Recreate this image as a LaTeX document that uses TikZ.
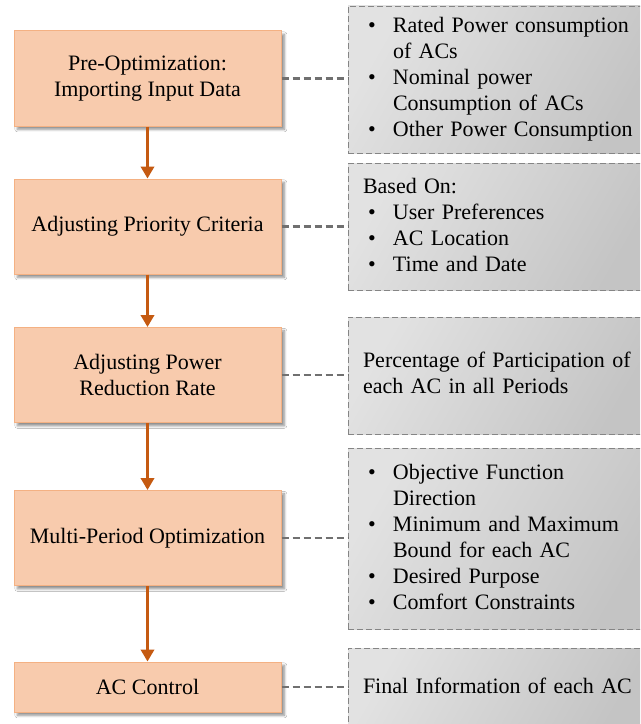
\documentclass[tikz,border=0pt]{standalone}
\usepackage{fontspec}
\setmainfont{Liberation Serif}
\usetikzlibrary{arrows.meta,shadows.blur}

\definecolor{peachfill}{RGB}{248,203,173}
\definecolor{peachline}{RGB}{244,177,131}
\definecolor{arrowbrown}{RGB}{197,90,17}
\definecolor{dashgray}{RGB}{112,112,112}
\definecolor{boxlight}{RGB}{226,226,226}
\definecolor{boxdark}{RGB}{196,196,196}

\newcommand{\bitem}{\makebox[22.5pt][l]{\hspace{3.75pt}\textbullet}}
\newcommand{\bcont}{\hspace*{22.5pt}}
\newenvironment{infolines}{\begin{tabular}{@{}l@{}}}{\end{tabular}}

\tikzset{
	stepbox/.style={draw=peachline, fill=peachfill, line width=0.75pt, minimum width=200.25pt, align=center,
		blur shadow={shadow xshift=2.5pt, shadow yshift=-2.5pt, shadow blur steps=6, shadow opacity=45}},
	infobox/.style={draw=dashgray!85, dash pattern=on 4.5pt off 2.25pt, line width=0.6pt,
		left color=boxlight, right color=boxdark, shading angle=60,
		minimum width=228pt, text width=205.5pt, inner xsep=11.25pt, align=left},
	flowarrow/.style={draw=arrowbrown, line width=2pt, -{Triangle[length=9pt,width=10pt]}},
	linkline/.style={draw=dashgray, line width=2pt, dash pattern=on 5.5pt off 2.75pt}
}
\tikzset{every picture/.style={line width=0.75pt}}

\begin{document}
\begin{tikzpicture}[x=0.75pt,y=0.75pt,yscale=-1,xscale=1, font=\fontsize{16.5}{19.5}\selectfont]
	\clip (0,0) rectangle (640,724);
	\fill[white] (0,0) rectangle (640,724);

	% Step Nodes
	\node[stepbox, minimum height=71.25pt] (pre) at (147.5,78.5) {Pre-Optimization:\\Importing Input Data};
	\node[stepbox, minimum height=71.25pt] (prio) at (147.5,226.5) {Adjusting Priority Criteria};
	\node[stepbox, minimum height=71.25pt] (rate) at (147.5,375) {Adjusting Power\\Reduction Rate};
	\node[stepbox, minimum height=71.25pt] (multi) at (147.5,538) {Multi-Period Optimization};
	\node[stepbox, minimum height=37.5pt] (ctrl) at (147.5,687) {AC Control};

	% Info Nodes
	\node[infobox, minimum height=110.25pt] (inputs) at (500,79.5) {\begin{infolines}
		\bitem Rated Power consumption\\ \bcont of ACs\\ \bitem Nominal power\\ \bcont Consumption of ACs\\ \bitem Other Power Consumption
	\end{infolines}};
	\node[infobox, minimum height=95.25pt] (criteria) at (500,227) {\begin{infolines}
		Based On:\\ \bitem User Preferences\\ \bitem AC Location\\ \bitem Time and Date
	\end{infolines}};
	\node[infobox, minimum height=87.75pt] (share) at (500,375.5) {\begin{infolines}
		Percentage of Participation of\\ each AC in all Periods
	\end{infolines}};
	\node[infobox, minimum height=135.75pt] (limits) at (500,539) {\begin{infolines}
		\bitem Objective Function\\ \bcont Direction\\ \bitem Minimum and Maximum\\ \bcont Bound for each AC\\ \bitem Desired Purpose\\ \bitem Comfort Constraints
	\end{infolines}};
	\node[infobox, minimum height=60pt] (final) at (500,688) {\begin{infolines}
		Final Information of each AC
	\end{infolines}};

	% Flow Arrows
	\draw[flowarrow] (pre) -- (prio);
	\draw[flowarrow] (prio) -- (rate);
	\draw[flowarrow] (rate) -- (multi);
	\draw[flowarrow] (multi) -- (ctrl);

	% Dashed Links
	\draw[linkline] (pre.east) -- (pre.east -| inputs.west);
	\draw[linkline] (prio.east) -- (prio.east -| criteria.west);
	\draw[linkline] (rate.east) -- (rate.east -| share.west);
	\draw[linkline] (multi.east) -- (multi.east -| limits.west);
	\draw[linkline] (ctrl.east) -- (ctrl.east -| final.west);

\end{tikzpicture}
\end{document}
